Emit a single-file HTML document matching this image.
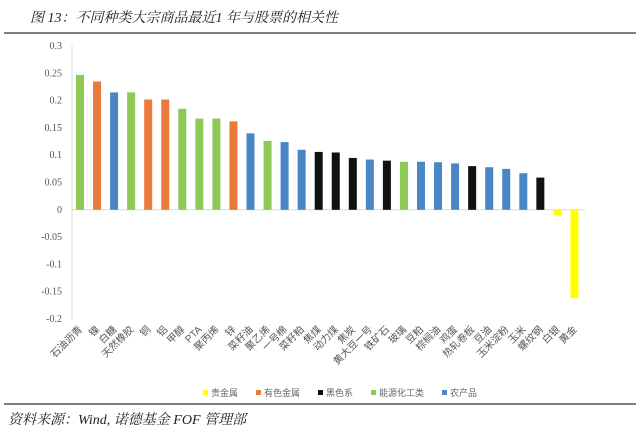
<!DOCTYPE html>
<html><head><meta charset="utf-8">
<style>
body{margin:0;background:#fff;width:640px;height:441px;overflow:hidden;font-family:"Liberation Serif","Noto Serif CJK SC",serif;}
svg{display:block}
</style></head>
<body>
<svg id="c" width="640" height="441">
<text x="30" y="22" font-size="14" font-style="italic" fill="#222">图 13：不同种类大宗商品最近1 年与股票的相关性</text>
<line x1="4" y1="33" x2="636" y2="33" stroke="#333" stroke-width="1.2"/>
<line x1="4" y1="404" x2="636" y2="404" stroke="#333" stroke-width="1.2"/>
<text x="8" y="424" font-size="14" font-style="italic" fill="#222">资料来源：Wind, 诺德基金 FOF 管理部</text>
<g id="plot"></g>
</svg>
<script>
const categories=["石油沥青","镍","白糖","天然橡胶","铜","铝","甲醇","PTA","聚丙烯","锌","菜籽油","聚乙烯","一号棉","菜籽粕","焦煤","动力煤","焦炭","黄大豆一号","铁矿石","玻璃","豆粕","棕榈油","鸡蛋","热轧卷板","豆油","玉米淀粉","玉米","螺纹钢","白银","黄金"];
const values=[0.247,0.235,0.215,0.215,0.202,0.202,0.185,0.167,0.167,0.162,0.14,0.126,0.124,0.11,0.106,0.105,0.095,0.092,0.09,0.088,0.088,0.087,0.085,0.08,0.078,0.075,0.067,0.059,-0.01,-0.162];
const groups=["能源化工类","有色金属","农产品","能源化工类","有色金属","有色金属","能源化工类","能源化工类","能源化工类","有色金属","农产品","能源化工类","农产品","农产品","黑色系","黑色系","黑色系","农产品","黑色系","能源化工类","农产品","农产品","农产品","黑色系","农产品","农产品","农产品","黑色系","贵金属","贵金属"];
const legendNames=["贵金属","有色金属","黑色系","能源化工类","农产品"];
const tickValues=[0.3,0.25,0.2,0.15,0.1,0.05,0,-0.05,-0.1,-0.15,-0.2];
const tickLabels=["0.3","0.25","0.2","0.15","0.1","0.05","0","-0.05","-0.1","-0.15","-0.2"];
const colorMap={"贵金属":"#ffff00","有色金属":"#ea7a3c","黑色系":"#111111","能源化工类":"#8cc955","农产品":"#4a86c6"};
const NS="http://www.w3.org/2000/svg";
const g=document.getElementById('plot');
const y0=46,y1=319,vmax=0.3,vmin=-0.2;
const y=v=>y0+(vmax-v)/(vmax-vmin)*(y1-y0);
const x0=72,step=17.05;
const x=i=>80+i*step;
function mk(t,a){const e=document.createElementNS(NS,t);for(const k in a)e.setAttribute(k,a[k]);g.appendChild(e);return e;}
let ax=mk('line',{x1:x0,y1:y0,x2:x0,y2:y1,stroke:'#d9d9d9'});


tickValues.forEach((v,i)=>{
 const t=mk('text',{x:x0-10,y:y(v)+3,'font-size':10,'text-anchor':'end',fill:'#555'});
 t.textContent=tickLabels[i];
 
 
});
let zl=mk('line',{x1:x0,y1:y(0),x2:585,y2:y(0),stroke:'#d9d9d9'});


categories.forEach((c,i)=>{
 const v=values[i],cx=x(i),bw=8;
 const r=mk('rect',{x:cx-bw/2,y:Math.min(y(v),y(0)),width:bw,height:Math.abs(y(v)-y(0)),fill:colorMap[groups[i]]});
 
 
 const t=mk('text',{x:cx+3,y:330,'font-size':10,'text-anchor':'end',fill:'#555',transform:`rotate(-45 ${cx+3} 330)`,'font-family':'"Liberation Sans","Noto Sans CJK SC",sans-serif'});
 t.textContent=c;
 
 
});
let lx=203;
legendNames.forEach(n=>{
 const s=mk('rect',{x:lx,y:390,width:5,height:5,fill:colorMap[n]});
 
 
 const t=mk('text',{x:lx+8,y:396,'font-size':9,fill:'#666','font-family':'"Liberation Sans","Noto Sans CJK SC",sans-serif'});
 t.textContent=n;
 
 
 lx+=14+n.length*9+12;
});
</script>
</body></html>
